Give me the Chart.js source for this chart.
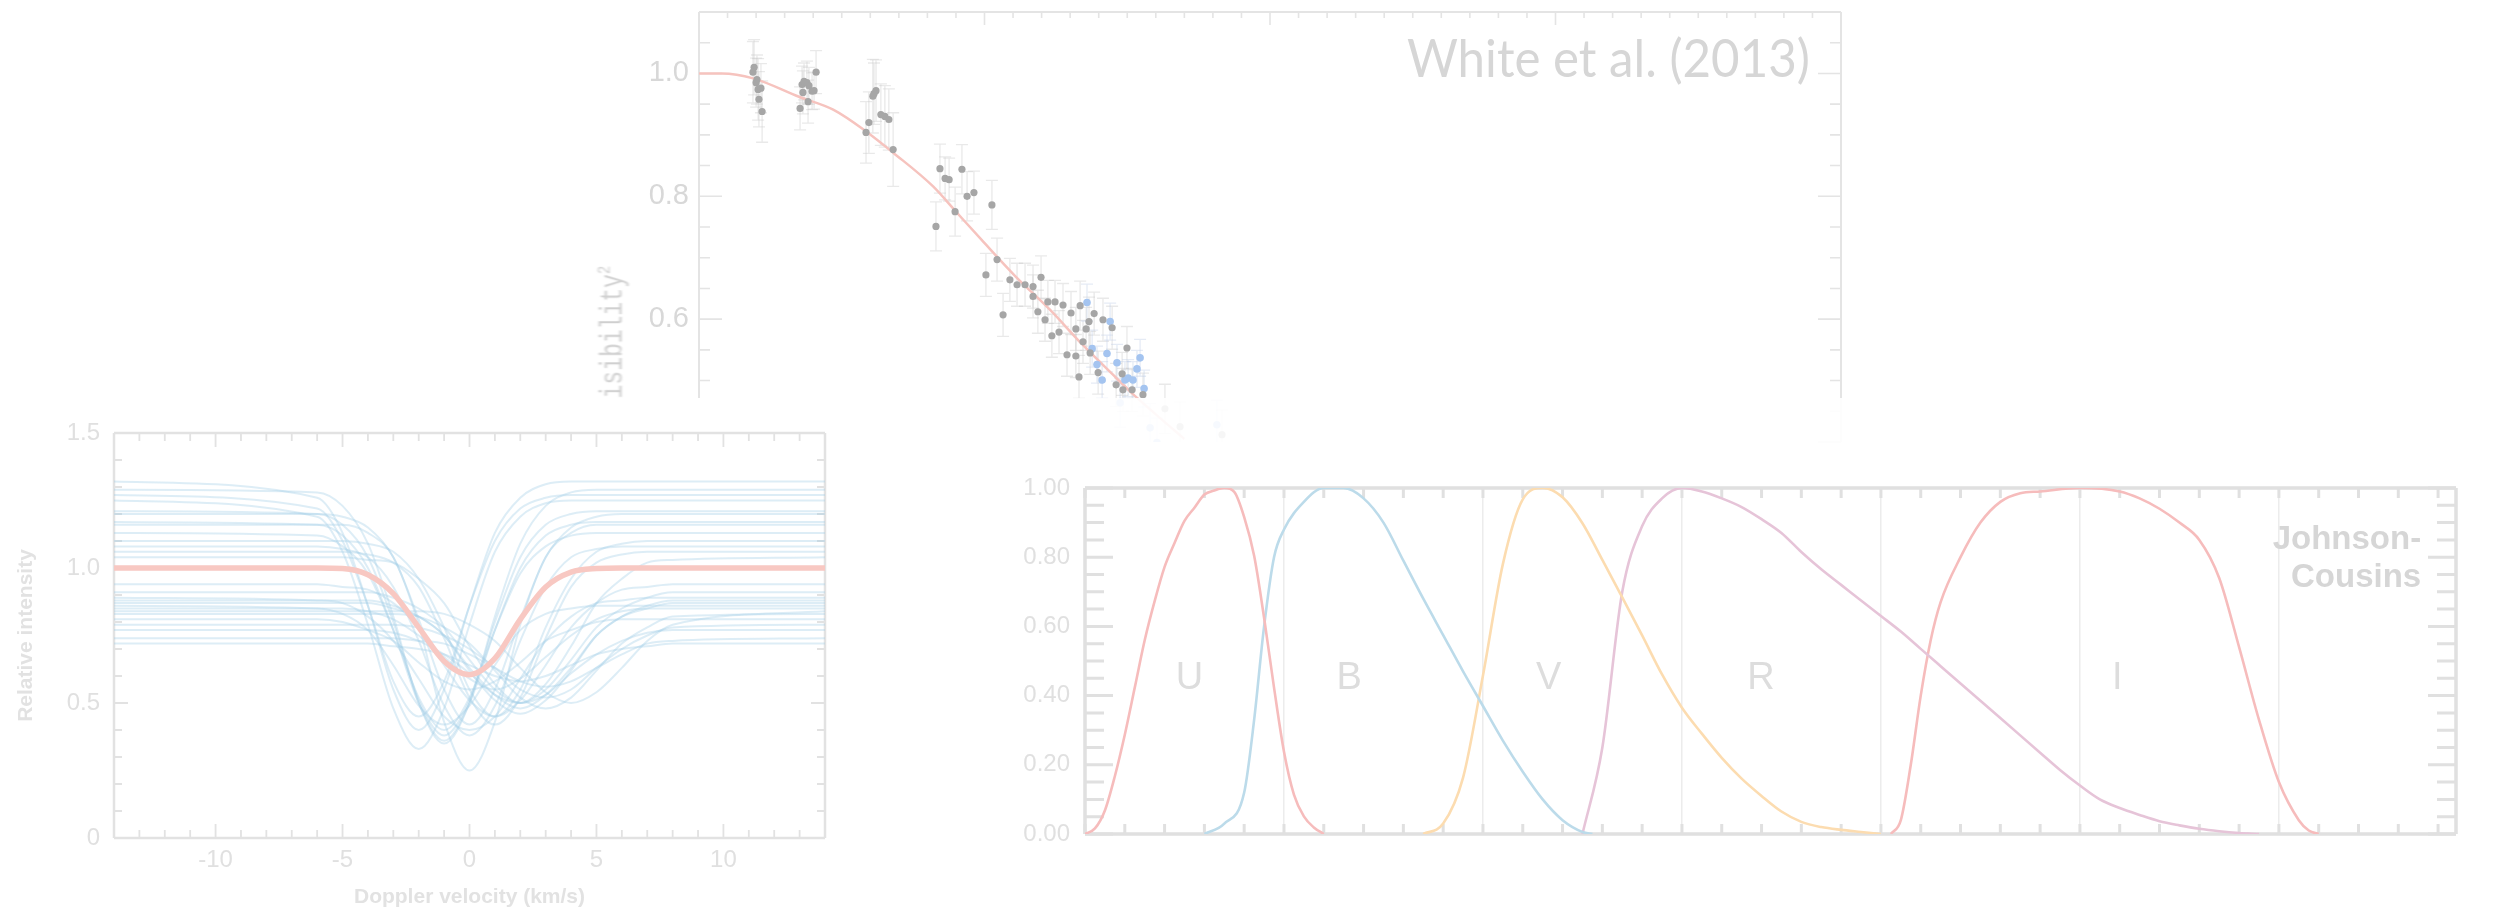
<!DOCTYPE html>
<html>
<head>
<meta charset="utf-8">
<script src="https://cdn.jsdelivr.net/npm/chart.js@4.4.1/dist/chart.umd.min.js"></script>
<style>
  html, body { margin: 0; padding: 0; background: #fff; width: 2501px; height: 913px; overflow: hidden; }
  .panel { position: absolute; }
  canvas { filter: blur(0.7px); }
  #visTitle {
    position: absolute; left: 612px; top: 339px;
    transform: translate(-50%, -50%) rotate(-90deg) scaleY(1.35);
    font: 23px 'Liberation Mono', monospace; color: #cfcfcf; white-space: nowrap;
    filter: blur(0.6px);
  }
  #visTitle sup { font-size: 14px; }
</style>
</head>
<body>
<div class="panel" style="left:560px;top:0;width:1320px;height:460px"><canvas id="vis" width="1320" height="460"></canvas></div>
<div id="visTitle">Visibility<sup>2</sup></div>
<div class="panel" style="left:560px;top:398px;width:1320px;height:62px;background:rgba(255,255,255,0.9)"></div>
<div class="panel" style="left:0;top:398px;width:835px;height:515px;background:#fff"><canvas id="lsd" width="835" height="515"></canvas></div>
<div class="panel" style="left:990px;top:450px;width:1511px;height:463px"><canvas id="filt" width="1511" height="463"></canvas></div>

<script>
// ---------- Interferometric visibility (spatial frequency vs V^2) ----------
const baselineGrey = [19.3,18.9,20.3,20.0,20.7,21.7,21.0,22.1,
  35.4,36.1,36.8,37.8,38.5,36.4,38.2,39.6,41.0,40.3,
  58.5,59.5,60.9,62.0,61.3,63.7,65.1,66.5,68.0,
  83.0,84.4,86.2,87.6,89.7,92.1,93.9,96.3,102.6,
  100.5,104.4,106.5,108.9,111.4,114.2,117.0,119.8,117.0,118.7,121.2,122.2,
  124.7,127.5,123.6,126.1,130.3,133.5,132.0,135.6,136.6,138.4,141.5,144.7,134.5,128.9,132.0,133.1,149.9,137.0,139.8,146.1,148.5,151.7,155.5,148.2,
  163.2,183.2,168.5];
const vis2Grey = [1.010,1.002,0.990,0.985,0.974,0.976,0.958,0.938,
  0.943,0.982,0.987,0.985,0.980,0.969,0.954,0.971,1.002,0.972,
  0.904,0.920,0.963,0.972,0.967,0.933,0.930,0.925,0.876,
  0.751,0.845,0.829,0.827,0.775,0.844,0.800,0.806,0.786,
  0.672,0.697,0.607,0.664,0.656,0.656,0.653,0.668,0.637,0.612,0.599,0.628,
  0.628,0.623,0.573,0.579,0.610,0.622,0.584,0.584,0.596,0.609,0.599,0.586,0.563,0.542,0.540,0.506,0.553,0.545,0.513,0.493,0.485,0.485,0.477,0.511,
  0.454,0.412,0.425];
const errGrey = [0.045,0.05,0.04,0.04,0.05,0.04,0.045,0.05,
  0.035,0.03,0.03,0.035,0.03,0.035,0.035,0.03,0.035,0.03,
  0.05,0.05,0.06,0.05,0.05,0.05,0.05,0.05,0.06,
  0.04,0.04,0.035,0.035,0.04,0.04,0.04,0.035,0.04,
  0.035,0.035,0.035,0.035,0.035,0.035,0.035,0.035,0.035,0.035,0.035,0.035,
  0.035,0.035,0.035,0.035,0.035,0.04,0.035,0.035,0.04,0.035,0.035,0.035,0.035,0.035,0.035,0.035,0.035,0.035,0.035,0.035,0.035,0.035,0.035,0.035,
  0.04,0.04,0.04];
const baselineBlue = [135.9,144.0,137.7,142.9,146.4,139.4,141.2,154.5,153.4,150.3,152.0,149.2,155.9,147.5,158.0,181.4,160.4];
const vis2Blue = [0.627,0.596,0.552,0.544,0.529,0.526,0.501,0.537,0.519,0.504,0.501,0.501,0.487,0.464,0.423,0.428,0.399];
const errBlue = [0.03,0.03,0.03,0.03,0.03,0.03,0.03,0.03,0.03,0.03,0.03,0.03,0.03,0.04,0.04,0.04,0.04];
const modelBaseline = [0,8,19,35,47,59,68,82,90,99,111,123,134,146,152,160,170];
const modelVis2 = [1.0,1.0,0.992,0.962,0.941,0.904,0.871,0.816,0.775,0.729,0.669,0.615,0.56,0.505,0.478,0.445,0.405];
const visTicks = [0.6, 0.8, 1.0];

// ---------- Line profiles (Doppler velocity vs relative intensity) ----------
const velocity = [-14,-6,-5,-4,-3,-2,-1,0,1,2,3,4,5,6,7,8,14];
const meanProfile = [1.0,1.0,0.998,0.975,0.905,0.78,0.655,0.605,0.665,0.81,0.93,0.985,0.998,1.0,1.0,1.0,1.0];
const epochProfiles = [
  [1.32,1.26,1.13,0.86,0.55,0.40,0.55,0.86,1.13,1.26,1.31,1.32,1.32,1.32,1.32,1.32,1.32],
  [1.29,1.28,1.23,1.09,0.82,0.50,0.35,0.50,0.82,1.09,1.23,1.28,1.29,1.29,1.29,1.29,1.29],
  [1.27,1.22,1.10,0.86,0.58,0.45,0.58,0.86,1.10,1.22,1.26,1.27,1.27,1.27,1.27,1.27,1.27],
  [1.25,1.19,1.06,0.79,0.48,0.33,0.48,0.79,1.06,1.19,1.24,1.25,1.25,1.25,1.25,1.25,1.25],
  [1.21,1.20,1.16,1.04,0.80,0.51,0.38,0.51,0.80,1.04,1.16,1.20,1.21,1.21,1.21,1.21,1.21],
  [1.20,1.20,1.19,1.15,1.04,0.81,0.55,0.42,0.55,0.81,1.04,1.15,1.19,1.20,1.20,1.20,1.20],
  [1.17,1.16,1.12,1.00,0.77,0.50,0.36,0.50,0.77,1.00,1.12,1.16,1.17,1.17,1.17,1.17,1.17],
  [1.16,1.16,1.16,1.13,1.04,0.79,0.43,0.25,0.43,0.79,1.04,1.13,1.16,1.16,1.16,1.16,1.16],
  [1.13,1.12,1.08,0.98,0.77,0.52,0.40,0.52,0.77,0.98,1.08,1.12,1.13,1.13,1.13,1.13,1.13],
  [1.10,1.10,1.10,1.09,1.06,0.96,0.78,0.55,0.45,0.55,0.78,0.96,1.06,1.09,1.10,1.10,1.10],
  [1.08,1.08,1.07,1.04,0.93,0.73,0.49,0.38,0.49,0.73,0.93,1.04,1.07,1.08,1.08,1.08,1.08],
  [1.06,1.06,1.06,1.05,1.02,0.93,0.74,0.52,0.42,0.52,0.74,0.93,1.02,1.05,1.06,1.06,1.06],
  [1.04,1.04,1.04,1.03,1.02,0.96,0.87,0.71,0.57,0.50,0.57,0.71,0.87,0.96,1.02,1.03,1.04],
  [0.94,0.94,0.93,0.92,0.87,0.78,0.64,0.51,0.45,0.51,0.64,0.78,0.87,0.92,0.93,0.94,0.94],
  [0.91,0.91,0.91,0.91,0.89,0.85,0.78,0.66,0.55,0.50,0.55,0.66,0.78,0.85,0.89,0.91,0.91],
  [0.89,0.88,0.87,0.82,0.73,0.59,0.45,0.40,0.45,0.59,0.73,0.82,0.87,0.88,0.89,0.89,0.89],
  [0.87,0.87,0.87,0.87,0.85,0.82,0.75,0.63,0.53,0.48,0.53,0.63,0.75,0.82,0.85,0.87,0.87],
  [0.85,0.85,0.85,0.84,0.81,0.75,0.67,0.59,0.55,0.59,0.67,0.75,0.81,0.84,0.85,0.85,0.85],
  [0.83,0.83,0.83,0.83,0.83,0.82,0.78,0.72,0.62,0.52,0.48,0.52,0.62,0.72,0.78,0.82,0.83],
  [0.81,0.81,0.80,0.77,0.73,0.65,0.58,0.55,0.58,0.65,0.73,0.77,0.80,0.81,0.81,0.81,0.81],
  [0.79,0.79,0.79,0.79,0.79,0.78,0.75,0.70,0.63,0.55,0.52,0.55,0.63,0.70,0.75,0.78,0.79],
  [0.77,0.77,0.77,0.77,0.76,0.73,0.68,0.61,0.53,0.50,0.53,0.61,0.68,0.73,0.76,0.77,0.77],
  [0.74,0.74,0.74,0.74,0.74,0.73,0.72,0.68,0.63,0.58,0.56,0.58,0.63,0.68,0.72,0.73,0.74],
  [0.72,0.72,0.72,0.72,0.71,0.70,0.68,0.64,0.60,0.58,0.60,0.64,0.68,0.70,0.71,0.72,0.72],
  [0.86,0.85,0.83,0.77,0.64,0.49,0.42,0.49,0.64,0.77,0.83,0.85,0.86,0.86,0.86,0.86,0.86],
  [0.88,0.88,0.88,0.88,0.86,0.82,0.75,0.62,0.51,0.46,0.51,0.62,0.75,0.82,0.86,0.88,0.88],
  [0.84,0.84,0.84,0.84,0.84,0.84,0.83,0.79,0.73,0.63,0.54,0.50,0.54,0.63,0.73,0.79,0.84]
];

// ---------- Johnson-Cousins passbands (wavelength nm vs normalised response) ----------
const wlU = [300,305,310,315,320,325,330,335,340,345,350,355,360,365,370,375,380,385,390,395,400,405,410,415,420];
const respU = [0,0.016,0.068,0.167,0.287,0.423,0.560,0.673,0.772,0.841,0.905,0.943,0.981,0.993,1.0,0.989,0.916,0.804,0.625,0.423,0.238,0.114,0.051,0.019,0];
const wlB = [360,370,380,385,390,395,400,410,420,430,440,450,460,470,480,490,500,510,520,530,540,550,555];
const respB = [0,0.03,0.12,0.33,0.60,0.80,0.88,0.96,1.0,1.0,0.97,0.90,0.79,0.68,0.575,0.47,0.37,0.27,0.18,0.10,0.04,0.006,0];
const wlV = [470,480,490,500,510,520,530,540,550,560,570,580,590,600,610,620,630,640,650,660,670,680,690,700];
const respV = [0,0.03,0.163,0.458,0.780,0.967,1.0,0.973,0.898,0.792,0.684,0.574,0.461,0.365,0.29,0.22,0.16,0.11,0.065,0.035,0.02,0.012,0.006,0];
const wlR = [550,560,570,580,590,600,610,620,630,640,650,660,670,680,690,700,710,720,730,740,750,760,770,780,790,800,810,820,830,840,850,860,870,880,890];
const respR = [0,0.25,0.70,0.89,0.97,1.0,0.99,0.97,0.945,0.91,0.87,0.815,0.765,0.72,0.675,0.63,0.585,0.535,0.485,0.435,0.385,0.335,0.285,0.235,0.185,0.14,0.10,0.075,0.055,0.037,0.025,0.015,0.008,0.003,0];
const wlI = [705,710,715,720,725,730,740,750,760,770,780,800,820,830,840,850,860,870,880,890,900,910,915,920];
const respI = [0,0.04,0.2,0.40,0.56,0.67,0.80,0.90,0.96,0.985,0.99,1.0,0.99,0.97,0.94,0.90,0.85,0.74,0.54,0.33,0.15,0.04,0.01,0];
const bandNames = ['U','B','V','R','I'];
const bandCentres = [352.5,432.7,533,639.7,818.8];

const pts = (xs, ys) => xs.map((x, i) => ({ x, y: ys[i] }));

// Frame with inward minor/major tick marks on the chosen sides
const boxTicks = {
  id: 'boxTicks',
  beforeDatasetsDraw(chart, args, o) {
    if (!o || !o.color) return;
    const { ctx, chartArea: a } = chart;
    const xs = chart.scales.x, ys = chart.scales.y;
    const sides = o.sides;
    const walk = (min, max, step, major, fn) => {
      const n = Math.floor((max - min) / step + 1e-6);
      for (let i = 0; i <= n; i++) {
        const v = min + i * step;
        const r = v / major;
        fn(v, Math.abs(r - Math.round(r)) < 1e-6);
      }
    };
    ctx.save();
    ctx.strokeStyle = o.color;
    ctx.lineWidth = o.tickWidth;
    ctx.beginPath();
    if (o.xt) walk(xs.min, xs.max, o.xt.minor, o.xt.major, (v, big) => {
      const p = xs.getPixelForValue(v);
      const len = big ? o.xt.majorLen : o.xt.minorLen;
      if (sides.includes('bottom')) { ctx.moveTo(p, a.bottom); ctx.lineTo(p, a.bottom - len); }
      if (sides.includes('top')) { ctx.moveTo(p, a.top); ctx.lineTo(p, a.top + len); }
    });
    if (o.yt) walk(ys.min, ys.max, o.yt.minor, o.yt.major, (v, big) => {
      const p = ys.getPixelForValue(v);
      const len = big ? o.yt.majorLen : o.yt.minorLen;
      if (sides.includes('left')) { ctx.moveTo(a.left, p); ctx.lineTo(a.left + len, p); }
      if (sides.includes('right')) { ctx.moveTo(a.right, p); ctx.lineTo(a.right - len, p); }
    });
    ctx.stroke();
    ctx.lineWidth = o.lineWidth;
    ctx.beginPath();
    if (sides.includes('top')) { ctx.moveTo(a.left, a.top); ctx.lineTo(a.right, a.top); }
    if (sides.includes('bottom')) { ctx.moveTo(a.left, a.bottom); ctx.lineTo(a.right, a.bottom); }
    if (sides.includes('left')) { ctx.moveTo(a.left, a.top); ctx.lineTo(a.left, a.bottom); }
    if (sides.includes('right')) { ctx.moveTo(a.right, a.top); ctx.lineTo(a.right, a.bottom); }
    ctx.stroke();
    ctx.restore();
  }
};

// Vertical error bars with caps, read from each dataset's "errors" array
const errorBars = {
  id: 'errorBars',
  beforeDatasetsDraw(chart) {
    const { ctx, chartArea: a } = chart;
    const xs = chart.scales.x, ys = chart.scales.y;
    ctx.save();
    ctx.beginPath(); ctx.rect(a.left, a.top, a.right - a.left, a.bottom - a.top); ctx.clip();
    chart.data.datasets.forEach(ds => {
      if (!ds.errors) return;
      ctx.strokeStyle = ds.errorColor;
      ctx.lineWidth = 1.3;
      ds.data.forEach((p, j) => {
        const e = ds.errors[j];
        const x = xs.getPixelForValue(p.x);
        const y0 = ys.getPixelForValue(p.y - e), y1 = ys.getPixelForValue(p.y + e);
        ctx.beginPath();
        ctx.moveTo(x, y0); ctx.lineTo(x, y1);
        ctx.moveTo(x - 6, y0); ctx.lineTo(x + 6, y0);
        ctx.moveTo(x - 6, y1); ctx.lineTo(x + 6, y1);
        ctx.stroke();
      });
    });
    ctx.restore();
  }
};

// Text placed at data coordinates, optionally squeezed to a set width
const notes = {
  id: 'notes',
  afterDatasetsDraw(chart, args, o) {
    if (!o || !o.items) return;
    const ctx = chart.ctx, xs = chart.scales.x, ys = chart.scales.y;
    o.items.forEach(it => {
      ctx.save();
      ctx.font = it.css;
      ctx.fillStyle = it.color;
      ctx.textBaseline = it.baseline || 'alphabetic';
      ctx.textAlign = it.align || 'left';
      const w = ctx.measureText(it.text).width;
      const s = it.width ? Math.min(1, it.width / w) : 1;
      ctx.translate(xs.getPixelForValue(it.x), ys.getPixelForValue(it.y));
      ctx.scale(s, 1);
      ctx.fillText(it.text, 0, 0);
      ctx.restore();
    });
  }
};

Chart.register(boxTicks, errorBars, notes);
Chart.defaults.font.family = "'Liberation Sans', Arial, sans-serif";
Chart.defaults.animation = false;
Chart.defaults.plugins.legend.display = false;
Chart.defaults.plugins.tooltip.enabled = false;

const fixBox = (w, h) => s => {
  if (w !== null) s.width = w;
  if (h !== null) s.height = h;
  s.paddingTop = s.paddingBottom = s.paddingLeft = s.paddingRight = 0;
};
const noGrid = { display: false, drawTicks: false };

// ---- visibility panel ----
new Chart(document.getElementById('vis'), {
  type: 'scatter',
  data: {
    datasets: [
      { data: pts(baselineGrey, vis2Grey), errors: errGrey, errorColor: 'rgba(200,200,200,0.4)',
        pointRadius: 3.6, pointBackgroundColor: '#a6a6a6', pointBorderWidth: 0 },
      { data: pts(baselineBlue, vis2Blue), errors: errBlue, errorColor: 'rgba(190,205,230,0.4)',
        pointRadius: 3.8, pointBackgroundColor: '#a4c4f0', pointBorderWidth: 0 },
      { type: 'line', data: pts(modelBaseline, modelVis2), borderColor: '#f6c3be', borderWidth: 2.5,
        pointRadius: 0, cubicInterpolationMode: 'monotone', fill: false }
    ]
  },
  options: {
    responsive: false, events: [],
    layout: { padding: { left: 0, top: 12, right: 39, bottom: 18 } },
    scales: {
      x: { type: 'linear', min: 0, max: 400, ticks: { display: false }, grid: noGrid, border: { display: false }, afterFit: fixBox(null, 0) },
      y: { min: 0.4, max: 1.1, grid: noGrid, border: { display: false }, afterFit: fixBox(139, null),
           afterBuildTicks: s => { s.ticks = visTicks.map(v => ({ value: v })); },
           ticks: { callback: v => v.toFixed(1), color: '#d8d8d8', font: { size: 29 }, padding: 10 } }
    },
    plugins: {
      boxTicks: { color: '#e4e4e4', tickWidth: 1.6, lineWidth: 2, sides: ['top', 'left', 'right'],
        xt: { minor: 10, major: 100, minorLen: 6, majorLen: 13 },
        yt: { minor: 0.05, major: 0.2, minorLen: 11, majorLen: 23 } },
      notes: { items: [
        { text: 'White et al. (2013)', x: 389.1, y: 0.995, align: 'right', css: "52px Lato, 'Open Sans', sans-serif", color: '#d6d6d6', width: 403 }
      ] }
    }
  }
});

// ---- line profile panel ----
const profileSets = epochProfiles.map(p => ({
  data: pts(velocity, p), borderColor: 'rgba(160,205,230,0.36)', borderWidth: 2,
  pointRadius: 0, cubicInterpolationMode: 'monotone', fill: false
}));
new Chart(document.getElementById('lsd'), {
  type: 'line',
  data: {
    datasets: [
      { data: pts(velocity, meanProfile), borderColor: '#f8c8c2', borderWidth: 5.5,
        pointRadius: 0, cubicInterpolationMode: 'monotone', fill: false },
      ...profileSets
    ]
  },
  options: {
    responsive: false, events: [],
    layout: { padding: { left: 0, top: 35, right: 10, bottom: 0 } },
    scales: {
      x: { type: 'linear', min: -14, max: 14, grid: noGrid, border: { display: false }, afterFit: fixBox(null, 75),
           ticks: { stepSize: 5, includeBounds: false, color: '#e0e0e0', font: { size: 24 }, padding: 8 },
           title: { display: true, text: 'Doppler velocity (km/s)', color: '#e2e2e2', font: { size: 21, weight: 'bold' }, padding: { top: 0, bottom: 3 } } },
      y: { min: 0, max: 1.5, grid: noGrid, border: { display: false }, afterFit: fixBox(114, null),
           ticks: { stepSize: 0.5, includeBounds: false, color: '#e0e0e0', font: { size: 24 }, padding: 14,
                    callback: v => v === 0 ? '0' : v.toFixed(1) },
           title: { display: true, text: 'Relative intensity', color: '#e2e2e2', font: { size: 21, weight: 'bold' }, padding: { top: 14, bottom: 0 } } }
    },
    plugins: {
      boxTicks: { color: '#e2e2e2', tickWidth: 1.8, lineWidth: 2.5, sides: ['top', 'bottom', 'left', 'right'],
        xt: { minor: 1, major: 5, minorLen: 8, majorLen: 14 },
        yt: { minor: 0.1, major: 0.5, minorLen: 8, majorLen: 14 } }
    }
  }
});

// ---- passband panel ----
const bandColours = ['#f6bcbc', '#bcdbea', '#fcdcb0', '#e6c4d8', '#f6bcbc'];
const bandData = [pts(wlU, respU), pts(wlB, respB), pts(wlV, respV), pts(wlR, respR), pts(wlI, respI)];
new Chart(document.getElementById('filt'), {
  type: 'line',
  data: {
    datasets: bandData.map((d, i) => ({
      label: bandNames[i], data: d, borderColor: bandColours[i], borderWidth: 2.6,
      pointRadius: 0, cubicInterpolationMode: 'monotone', fill: false
    }))
  },
  options: {
    responsive: false, events: [],
    layout: { padding: { left: 0, top: 38, right: 45, bottom: 79 } },
    scales: {
      x: { type: 'linear', min: 300, max: 989, border: { display: false }, afterFit: fixBox(null, 0),
           ticks: { display: false, stepSize: 100 },
           grid: { display: true, drawTicks: false, color: '#ececec', lineWidth: 1.5, borderDash: [4, 4] } },
      y: { min: 0, max: 1, grid: noGrid, border: { display: false }, afterFit: fixBox(95, null),
           ticks: { stepSize: 0.2, color: '#e0e0e0', font: { size: 24 }, padding: 15, callback: v => v.toFixed(2) } }
    },
    plugins: {
      boxTicks: { color: '#e0e0e0', tickWidth: 3, lineWidth: 3.5, sides: ['top', 'bottom', 'left', 'right'],
        xt: { minor: 20, major: 100, minorLen: 10, majorLen: 10 },
        yt: { minor: 0.05, major: 0.2, minorLen: 19, majorLen: 28 } },
      notes: { items: [
        ...bandNames.map((n, i) => ({ text: n, x: bandCentres[i], y: 0.45, align: 'center', baseline: 'middle',
                                        css: "38px 'Liberation Sans', sans-serif", color: '#dddddd' })),
        { text: 'Johnson-', x: 971.5, y: 0.851, align: 'right', baseline: 'middle', css: "bold 33px 'Liberation Sans', sans-serif", color: '#d6d6d6', width: 151 },
        { text: 'Cousins', x: 971.5, y: 0.74, align: 'right', baseline: 'middle', css: "bold 33px 'Liberation Sans', sans-serif", color: '#d6d6d6', width: 134 }
      ] }
    }
  }
});
</script>
</body>
</html>
